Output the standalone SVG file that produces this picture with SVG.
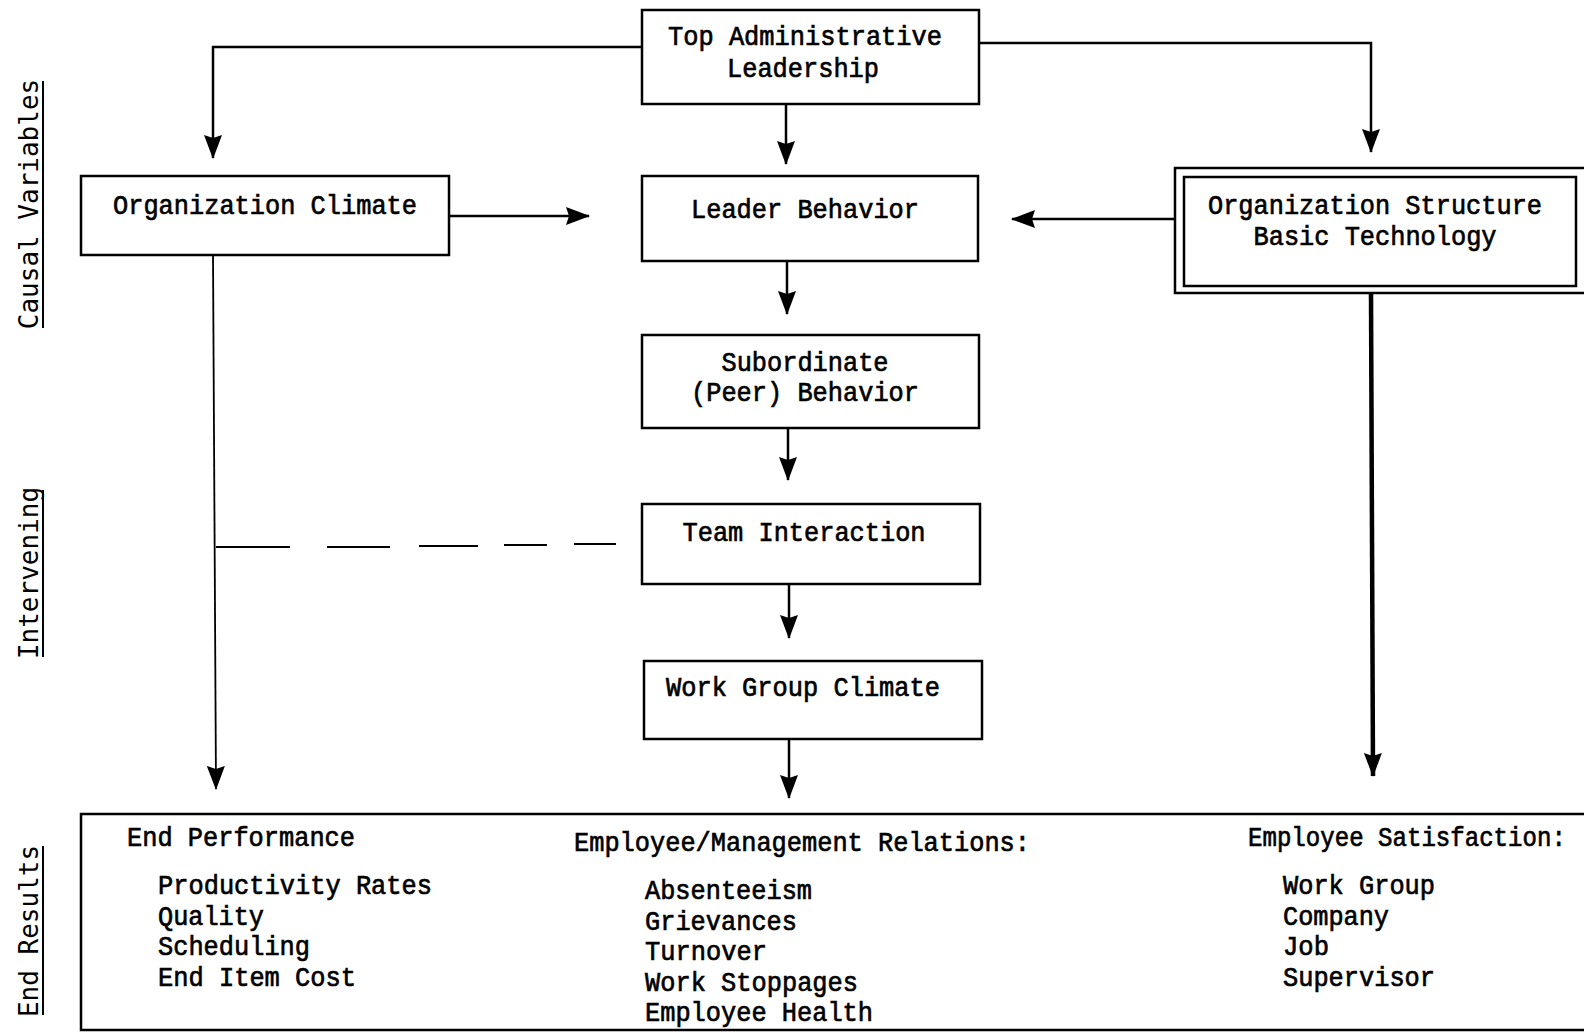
<svg xmlns="http://www.w3.org/2000/svg" width="1584" height="1032" viewBox="0 0 1584 1032">
  <defs>
    <style>
      .box { fill: #fff; stroke: #000; stroke-width: 2.5; }
      .lbl { font-family: "Liberation Mono", "DejaVu Sans Mono", monospace; font-size: 28px; fill: #000; stroke: #000; stroke-width: 0.7; }
      .mid { text-anchor: middle; }
      .side { font-family: "DejaVu Sans Mono", "Liberation Mono", monospace; font-size: 26px; fill: #000; text-anchor: middle; }
      .rule { stroke: #000; stroke-width: 2; }
      .wire { fill: none; stroke: #000; stroke-width: 2.5; }
      .thin { fill: none; stroke: #000; stroke-width: 1.8; }
      .thick { fill: none; stroke: #000; stroke-width: 4.5; }
    </style>
    <marker id="arrow" viewBox="0 0 24 18" refX="23" refY="9" markerWidth="24" markerHeight="18" markerUnits="userSpaceOnUse" orient="auto">
      <path d="M0,0 L24,9 L0,18 L3,9 z" fill="#000"/>
    </marker>
  </defs>

  <rect width="1584" height="1032" fill="#fff"/>

  <!-- section labels along the left margin -->
  <g id="section-labels">
    <text class="side" transform="translate(38,204) rotate(-90)">Causal Variables</text>
    <line class="rule" x1="43" y1="81" x2="43" y2="328"/>
    <text class="side" transform="translate(38,573) rotate(-90)">Intervening</text>
    <line class="rule" x1="43" y1="490" x2="43" y2="657"/>
    <text class="side" transform="translate(38,931) rotate(-90)">End Results</text>
    <line class="rule" x1="43" y1="846" x2="43" y2="1015"/>
  </g>

  <!-- connectors -->
  <g id="connectors">
    <path class="wire" d="M642,47 H213 V158" marker-end="url(#arrow)"/>
    <path class="wire" d="M979,43 H1371 V152" marker-end="url(#arrow)"/>
    <path class="wire" d="M786,104 V164" marker-end="url(#arrow)"/>
    <path class="wire" d="M449,216 H589" marker-end="url(#arrow)"/>
    <path class="wire" d="M1175,219 H1012" marker-end="url(#arrow)"/>
    <path class="wire" d="M787,261 V314" marker-end="url(#arrow)"/>
    <path class="wire" d="M788,428 V480" marker-end="url(#arrow)"/>
    <path class="wire" d="M789,584 V638" marker-end="url(#arrow)"/>
    <path class="wire" d="M789,739 V798" marker-end="url(#arrow)"/>
    <path class="thin" d="M213,255 L216,789" marker-end="url(#arrow)"/>
    <path class="thick" d="M1371,293 L1373,776" marker-end="url(#arrow)"/>
    <!-- dashed link from Team Interaction to the left trunk -->
    <g class="thin">
      <path d="M216,547 H290"/>
      <path d="M327,547 H390"/>
      <path d="M419,546 H478"/>
      <path d="M504,545 H547"/>
      <path d="M574,544 H616"/>
    </g>
  </g>

  <g id="top-leadership">
    <rect class="box" x="642" y="10" width="337" height="94"/>
    <text class="lbl mid" x="805" y="45" textLength="274" lengthAdjust="spacingAndGlyphs">Top Administrative</text>
    <text class="lbl mid" x="803" y="77" textLength="152" lengthAdjust="spacingAndGlyphs">Leadership</text>
  </g>

  <g id="organization-climate">
    <rect class="box" x="81" y="176" width="368" height="79"/>
    <text class="lbl" x="113" y="214" textLength="304" lengthAdjust="spacingAndGlyphs">Organization Climate</text>
  </g>

  <g id="leader-behavior">
    <rect class="box" x="642" y="176" width="336" height="85"/>
    <text class="lbl mid" x="805" y="218" textLength="228" lengthAdjust="spacingAndGlyphs">Leader Behavior</text>
  </g>

  <g id="organization-structure">
    <rect class="box" x="1175" y="168" width="420" height="125"/>
    <rect class="box" x="1184" y="177" width="392" height="109"/>
    <text class="lbl mid" x="1375" y="214" textLength="334" lengthAdjust="spacingAndGlyphs">Organization Structure</text>
    <text class="lbl mid" x="1375" y="245" textLength="243" lengthAdjust="spacingAndGlyphs">Basic Technology</text>
  </g>

  <g id="subordinate-behavior">
    <rect class="box" x="642" y="335" width="337" height="93"/>
    <text class="lbl mid" x="805" y="371" textLength="167" lengthAdjust="spacingAndGlyphs">Subordinate</text>
    <text class="lbl mid" x="805" y="401" textLength="228" lengthAdjust="spacingAndGlyphs">(Peer) Behavior</text>
  </g>

  <g id="team-interaction">
    <rect class="box" x="642" y="504" width="338" height="80"/>
    <text class="lbl mid" x="804" y="541" textLength="243" lengthAdjust="spacingAndGlyphs">Team Interaction</text>
  </g>

  <g id="work-group-climate">
    <rect class="box" x="644" y="661" width="338" height="78"/>
    <text class="lbl mid" x="803" y="696" textLength="274" lengthAdjust="spacingAndGlyphs">Work Group Climate</text>
  </g>

  <g id="end-results">
    <path class="box" d="M1595,814 H81 V1030 H1595"/>
    <text class="lbl" x="127" y="846" textLength="228" lengthAdjust="spacingAndGlyphs">End Performance</text>
    <text class="lbl" x="158" y="894" textLength="274" lengthAdjust="spacingAndGlyphs">Productivity Rates</text>
    <text class="lbl" x="158" y="925" textLength="106" lengthAdjust="spacingAndGlyphs">Quality</text>
    <text class="lbl" x="158" y="955" textLength="152" lengthAdjust="spacingAndGlyphs">Scheduling</text>
    <text class="lbl" x="158" y="986" textLength="198" lengthAdjust="spacingAndGlyphs">End Item Cost</text>

    <text class="lbl" x="574" y="851" textLength="456" lengthAdjust="spacingAndGlyphs">Employee/Management Relations:</text>
    <text class="lbl" x="645" y="899" textLength="167" lengthAdjust="spacingAndGlyphs">Absenteeism</text>
    <text class="lbl" x="645" y="930" textLength="152" lengthAdjust="spacingAndGlyphs">Grievances</text>
    <text class="lbl" x="645" y="960" textLength="122" lengthAdjust="spacingAndGlyphs">Turnover</text>
    <text class="lbl" x="645" y="991" textLength="213" lengthAdjust="spacingAndGlyphs">Work Stoppages</text>
    <text class="lbl" x="645" y="1021" textLength="228" lengthAdjust="spacingAndGlyphs">Employee Health</text>

    <text class="lbl" transform="translate(1248,846) scale(0.86,1)" x="0" y="0">Employee Satisfaction:</text>
    <text class="lbl" x="1283" y="894" textLength="152" lengthAdjust="spacingAndGlyphs">Work Group</text>
    <text class="lbl" x="1283" y="925" textLength="106" lengthAdjust="spacingAndGlyphs">Company</text>
    <text class="lbl" x="1283" y="955" textLength="46" lengthAdjust="spacingAndGlyphs">Job</text>
    <text class="lbl" x="1283" y="986" textLength="152" lengthAdjust="spacingAndGlyphs">Supervisor</text>
  </g>
</svg>
